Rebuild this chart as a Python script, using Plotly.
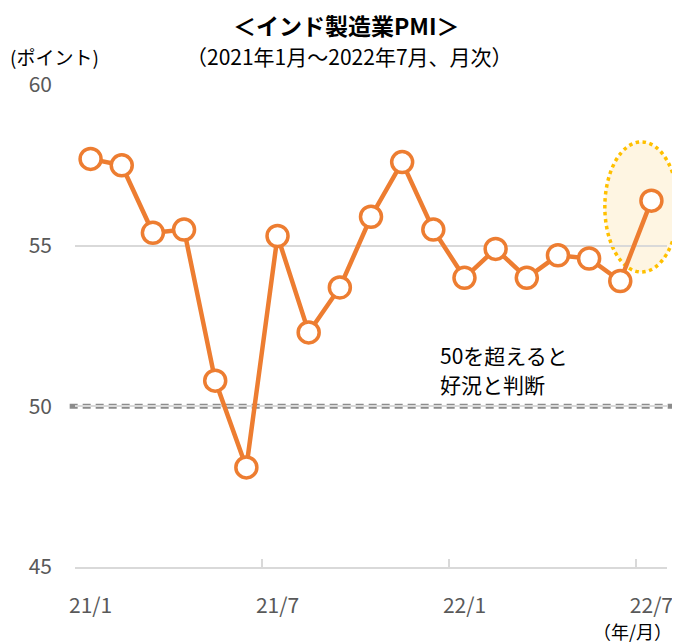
import plotly.graph_objects as go

months = ["21/1", "21/2", "21/3", "21/4", "21/5", "21/6", "21/7", "21/8", "21/9", "21/10",
          "21/11", "21/12", "22/1", "22/2", "22/3", "22/4", "22/5", "22/6", "22/7"]
pmi = [57.7, 57.5, 55.4, 55.5, 50.8, 48.1, 55.3, 52.3, 53.7, 55.9,
       57.6, 55.5, 54.0, 54.9, 54.0, 54.7, 54.6, 53.9, 56.4]
y_ticks = [45, 50, 55, 60]
threshold = 50
y_min, y_max = 45, 60

FONT = "Noto Sans CJK JP"
ORANGE = "#ED7D31"
GRID = "#D9D9D9"
TICK = "#595959"

fig = go.Figure()
fig.add_trace(go.Scatter(
    x=months, y=pmi, mode="lines+markers",
    line=dict(color=ORANGE, width=4.5),
    marker=dict(size=21, color="white", line=dict(color=ORANGE, width=3.5)),
    cliponaxis=False, showlegend=False,
))

thr_frac = (threshold - y_min) / (y_max - y_min)
shapes = [
    dict(type="line", xref="paper", yref="paper", x0=-0.009, x1=1.017,
         y0=thr_frac, y1=thr_frac, layer="below",
         line=dict(color="#8C8C8C", width=5, dash="8px,5px")),
    dict(type="circle", xref="paper", yref="paper", x0=0.895, x1=1.0186,
         y0=0.612, y1=0.882, layer="below",
         fillcolor="#FEF5E2", line=dict(color="#FFC000", width=3.5, dash="dot")),
]

# page-pixel helpers (plot area spans x 75..667, y 85..567 on the page)
def px_x(p):
    return (p - 75) / 592

def px_y(p):
    return (567 - p) / 482

annotations = [
    dict(text="<b>＜インド製造業PMI＞</b>", xref="paper", yref="paper",
         x=px_x(346), y=px_y(25), xanchor="center", yanchor="middle",
         showarrow=False, font=dict(family=FONT, size=23, color="black")),
    dict(text="（2021年1月～2022年7月、月次）", xref="paper", yref="paper",
         x=px_x(349), y=px_y(56), xanchor="center", yanchor="middle",
         showarrow=False, font=dict(family=FONT, size=21, color="black")),
    dict(text="(ポイント)", xref="paper", yref="paper",
         x=px_x(8), y=px_y(56), xanchor="left", yanchor="middle",
         showarrow=False, font=dict(family=FONT, size=19, color="black")),
    dict(text="（年/月）", xref="paper", yref="paper",
         x=px_x(674), y=px_y(631), xanchor="right", yanchor="middle",
         showarrow=False, font=dict(family=FONT, size=18, color="black")),
    dict(text="50を超えると", xref="paper", yref="paper",
         x=px_x(438), y=px_y(355), xanchor="left", yanchor="middle",
         showarrow=False, font=dict(family=FONT, size=21, color="black")),
    dict(text="好況と判断", xref="paper", yref="paper",
         x=px_x(438), y=px_y(384), xanchor="left", yanchor="middle",
         showarrow=False, font=dict(family=FONT, size=21, color="black")),
]

# the page adds an 8px body margin, so the figure is 8px smaller and shifted
fig.update_layout(
    width=672, height=635,
    margin=dict(l=67, r=13, t=77, b=76, autoexpand=False),
    paper_bgcolor="white", plot_bgcolor="white",
    font=dict(family=FONT, color=TICK),
    shapes=shapes, annotations=annotations,
    showlegend=False,
)
fig.update_xaxes(
    type="category", range=[-0.5, 18.5], dtick=6, tick0=0, tickangle=0,
    tickson="boundaries", ticks="inside", ticklen=8, tickwidth=2, tickcolor=GRID,
    showline=True, linecolor=GRID, linewidth=2, showgrid=False, zeroline=False,
    tickfont=dict(family=FONT, size=21, color=TICK), ticklabelstandoff=19,
    automargin=False,
)
fig.update_yaxes(
    range=[y_min, y_max], tickvals=y_ticks, ticks="", showline=False,
    showgrid=True, gridcolor=GRID, gridwidth=2, zeroline=False,
    tickfont=dict(family=FONT, size=21, color=TICK), ticklabelstandoff=22,
    automargin=False,
)

fig.write_html("out.html")
